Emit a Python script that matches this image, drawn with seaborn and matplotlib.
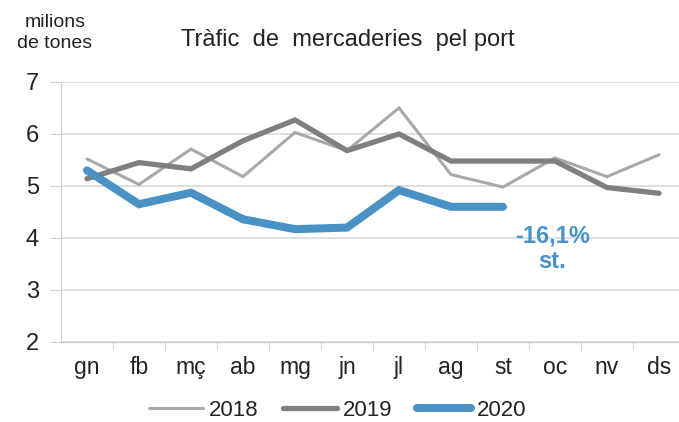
import numpy as np
import pandas as pd
import matplotlib
matplotlib.use("Agg")
import matplotlib.pyplot as plt
import seaborn as sns

# Monthly data (millions of tonnes)
months = ["gn", "fb", "mç", "ab", "mg", "jn", "jl", "ag", "st", "oc", "nv", "ds"]
vals_2018 = [5.52, 5.03, 5.71, 5.18, 6.03, 5.68, 6.50, 5.22, 4.98, 5.54, 5.18, 5.60]
vals_2019 = [5.14, 5.45, 5.33, 5.87, 6.27, 5.68, 6.00, 5.48, 5.48, 5.48, 4.97, 4.86]
vals_2020 = [5.30, 4.65, 4.87, 4.36, 4.17, 4.20, 4.92, 4.60, 4.60]
years = ["2018", "2019", "2020"]
annot_text = "-16,1%\nst."

rows = []
for yr, vals in zip(years, [vals_2018, vals_2019, vals_2020]):
    for i, v in enumerate(vals):
        rows.append({"idx": i, "mes": months[i], "valor": v, "any": yr})
df = pd.DataFrame(rows)

sns.set_style("white")
plt.rcParams["font.family"] = ["Liberation Sans", "DejaVu Sans"]

colors = {"2018": "#a9a9a9", "2019": "#7f7f7f", "2020": "#4a92c6"}
widths = {"2018": 2.2, "2019": 3.8, "2020": 5.8}

W, H = 679, 422
fig = plt.figure(figsize=(W / 100, H / 100), dpi=100)
ax = fig.add_axes([61 / W, (H - 342) / H, (W - 61) / W, 260 / H])

for yr in years:
    sub = df[df["any"] == yr]
    sns.lineplot(data=sub, x="idx", y="valor", ax=ax, color=colors[yr],
                 linewidth=widths[yr], label=yr, solid_capstyle="round",
                 solid_joinstyle="miter")

ax.set_xlim(-0.5, -0.5 + (W - 61) / 52)
ax.set_ylim(2, 7)
ax.set_yticks(range(2, 8))
ax.set_xticks(range(len(months)))
ax.set_xticklabels(months)
ax.set_xticks(np.arange(0.5, len(months) - 0.5, 1), minor=True)
ax.set_xlabel("")
ax.set_ylabel("")

ax.grid(axis="y", color="#d9d9d9", linewidth=1.2)
ax.set_axisbelow(True)
for s in ["top", "right"]:
    ax.spines[s].set_visible(False)
ax.spines["left"].set_color("#d0d0d0")
ax.spines["bottom"].set_color("#c8c8c8")
ax.tick_params(axis="y", which="major", length=8, color="#d0d0d0", labelsize=17, pad=8, left=True)
ax.tick_params(axis="x", which="major", length=0, labelsize=16.5, pad=10)
ax.tick_params(axis="x", which="minor", length=6, color="#c8c8c8", bottom=True)
for lab in ax.get_xticklabels() + ax.get_yticklabels():
    lab.set_color("#222222")

ax.text(8.95, 4.25, annot_text, color=colors["2020"], fontsize=17,
        fontweight="bold", ha="center", va="top", linespacing=1.1)

fig.text(55 / W, 1 - 33 / H, "milions\nde tones", ha="center", va="center",
         fontsize=14, color="#222222", linespacing=1.3)
fig.text(348 / W, 1 - 40 / H, "Tràfic  de  mercaderies  pel port", ha="center",
         va="center", fontsize=17, color="#222222")

leg = ax.legend(loc="center", bbox_to_anchor=(338 / W, 1 - 410 / H),
                bbox_transform=fig.transFigure, ncol=3, frameon=False,
                fontsize=16, handlelength=2.4, columnspacing=1.1, handletextpad=0.3)
for t in leg.get_texts():
    t.set_color("#222222")

fig.savefig("out.png", dpi=100)
